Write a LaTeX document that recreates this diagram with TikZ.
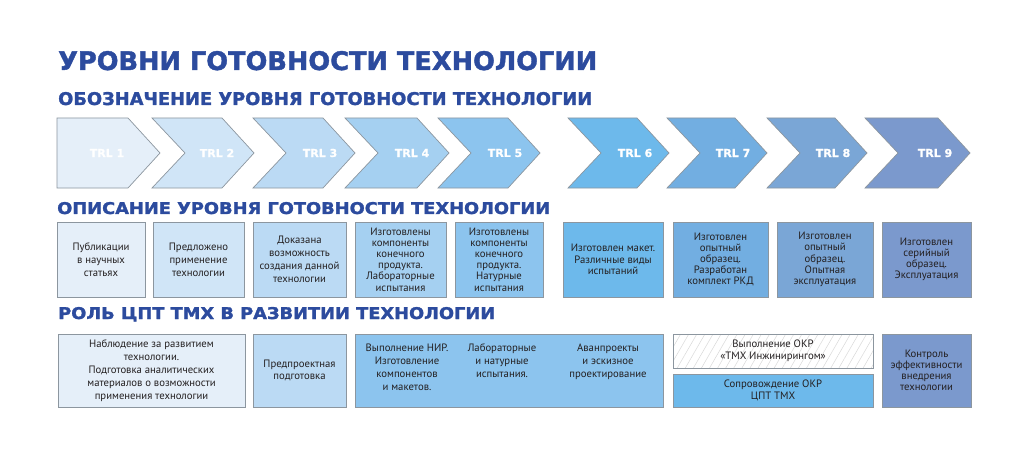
\documentclass[tikz,border=0pt]{standalone}
\usepackage{graphicx}
\usepackage{fontspec}
\setmainfont{PT Sans}
\newfontfamily\headfont[FakeBold=1.5]{DejaVu Sans Bold}
\newfontfamily\trlfont[FakeBold=1]{DejaVu Sans Bold}
\usetikzlibrary{patterns.meta}
\definecolor{hd}{RGB}{44,75,158}
\definecolor{bordc}{HTML}{8C969F}
\definecolor{txt}{HTML}{231F20}
\definecolor{t1}{HTML}{E5EFF9}
\definecolor{t2}{HTML}{D0E5F7}
\definecolor{t3}{HTML}{BBDAF4}
\definecolor{t4}{HTML}{A5D0F1}
\definecolor{t5}{HTML}{8CC4EE}
\definecolor{t6}{HTML}{6DB9EB}
\definecolor{t7}{HTML}{72AEE1}
\definecolor{t8}{HTML}{7AA6D6}
\definecolor{t9}{HTML}{7B99CD}
\tikzset{
  chev/.style={draw=bordc, line width=0.7pt, line join=miter},
  trl/.style={font=\trlfont\fontsize{11}{12}\selectfont, text=white, inner sep=0},
  box/.style={draw=bordc, line width=0.8pt, align=center, inner sep=0, text=txt,
    font=\fontsize{10.7}{11.2}\selectfont},
  loose/.style={font=\fontsize{10.7}{13}\selectfont},
  tx/.style={align=center, inner sep=0, text=txt, font=\fontsize{10.7}{13}\selectfont},
  head/.style={anchor=base west, inner sep=0, text=hd},
}
\begin{document}
\begin{tikzpicture}[x=1pt,y=-1pt]
\useasboundingbox[fill=white] (0,0) rectangle (1024,449);

% headings
\node[head] (title) at (58,70) {\resizebox{539pt}{19pt}{\headfont УРОВНИ ГОТОВНОСТИ ТЕХНОЛОГИИ}};
\node[head] (sub1) at (58,105) {\resizebox{534pt}{13pt}{\headfont ОБОЗНАЧЕНИЕ УРОВНЯ ГОТОВНОСТИ ТЕХНОЛОГИИ}};
\node[head] (sub2) at (57,214) {\resizebox{493pt}{12pt}{\headfont ОПИСАНИЕ УРОВНЯ ГОТОВНОСТИ ТЕХНОЛОГИИ}};
\node[head] (sub3) at (58,319) {\resizebox{437pt}{12pt}{\headfont РОЛЬ ЦПТ ТМХ В РАЗВИТИИ ТЕХНОЛОГИИ}};

% chevrons
\draw[chev, fill=t1] (57,118) -- (128,118) -- (160,153) -- (128,188) -- (57,188) -- cycle;
\foreach \L/\R/\c in {152/222/t2, 253/323/t3, 345/417/t4, 438/508/t5, 568/637/t6, 667/735/t7, 767/835/t8, 865/938/t9}
  \draw[chev, fill=\c] (\L,118) -- (\R,118) -- ({\R+32},153) -- (\R,188) -- (\L,188) -- ({\L+33},153) -- cycle;

\node[trl] (trl1) at (107,153) {TRL 1};
\node[trl] (trl2) at (217,153) {TRL 2};
\node[trl] (trl3) at (320,153) {TRL 3};
\node[trl] (trl4) at (412,153) {TRL 4};
\node[trl] (trl5) at (505,153) {TRL 5};
\node[trl] (trl6) at (635,153) {TRL 6};
\node[trl] (trl7) at (733,153) {TRL 7};
\node[trl] (trl8) at (833,153) {TRL 8};
\node[trl] (trl9) at (935,153) {TRL 9};

% description boxes
\node[box, loose, fill=t1, minimum width=88pt, minimum height=75pt] (d1) at (101,259.5) {Публикации\\в научных\\статьях};
\node[box, loose, fill=t2, minimum width=91pt, minimum height=75pt] (d2) at (198.5,259.5) {Предложено\\применение\\технологии};
\node[box, loose, fill=t3, minimum width=93pt, minimum height=75pt] (d3) at (299.5,259.5) {Доказана\\возможность\\создания данной\\технологии};
\node[box, fill=t4, minimum width=91pt, minimum height=75pt] (d4) at (400.5,259.5) {Изготовлены\\компоненты\\конечного\\продукта.\\Лабораторные\\испытания};
\node[box, fill=t5, minimum width=88pt, minimum height=75pt] (d5) at (499,259.5) {Изготовлены\\компоненты\\конечного\\продукта.\\Натурные\\испытания};
\node[box, fill=t6, minimum width=100pt, minimum height=75pt] (d6) at (613,259.5) {Изготовлен макет.\\Различные виды\\испытаний};
\node[box, fill=t7, minimum width=95pt, minimum height=75pt] (d7) at (720.5,259.5) {Изготовлен\\опытный\\образец.\\Разработан\\комплект РКД};
\node[box, fill=t8, minimum width=96pt, minimum height=75pt] (d8) at (825,259.5) {Изготовлен\\опытный\\образец.\\Опытная\\эксплуатация};
\node[box, fill=t9, minimum width=89pt, minimum height=75pt] (d9) at (926.5,259.5) {Изготовлен\\серийный\\образец.\\Эксплуатация};

% role boxes
\node[box, loose, fill=t1, minimum width=187pt, minimum height=73pt] (ra) at (151.5,370.5) {Наблюдение за развитием\\технологии.\\Подготовка аналитических\\материалов о возможности\\применения технологии};
\node[box, fill=t3, font=\fontsize{10.7}{12}\selectfont, minimum width=93pt, minimum height=73pt] (rb) at (299.5,370.5) {Предпроектная\\подготовка};
\node[box, fill=t5, minimum width=308pt, minimum height=73pt] (rc) at (509,370.5) {};
\node[tx, anchor=north] (rc1) at (407,344) {Выполнение НИР.\\Изготовление\\компонентов\\и макетов.};
\node[tx, anchor=north] (rc2) at (502,344) {Лабораторные\\и натурные\\испытания.};
\node[tx, anchor=north] (rc3) at (608,344) {Аванпроекты\\и эскизное\\проектирование};
\node[box, pattern={Lines[angle=60,distance=7pt,line width=0.5pt]}, pattern color=gray!30, minimum width=200pt, minimum height=34pt] (rd) at (773,351) {};
\node[tx, font=\fontsize{10.7}{11.5}\selectfont] (rdt) at (773,351) {Выполнение ОКР\\«ТМХ Инжинирингом»};
\node[box, fill=t6, font=\fontsize{10.7}{12}\selectfont, minimum width=200pt, minimum height=33pt] (re) at (773,390.5) {Сопровождение ОКР\\ЦПТ ТМХ};
\node[box, fill=t9, minimum width=89pt, minimum height=73pt] (rf) at (926.5,370.5) {Контроль\\эффективности\\внедрения\\технологии};
\end{tikzpicture}
\end{document}
